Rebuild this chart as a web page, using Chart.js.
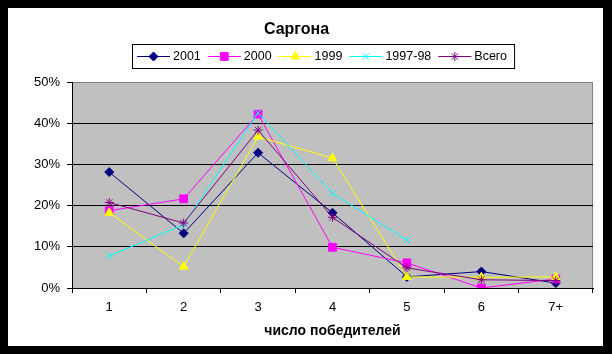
<!DOCTYPE html>
<html><head><meta charset="utf-8">
<script src="https://cdn.jsdelivr.net/npm/chart.js@4"></script>
<style>html,body{margin:0;padding:0;background:#000;overflow:hidden}canvas{display:block}</style>
</head><body><canvas id="c" width="612" height="354"></canvas>
<script>
const categories = ['1', '2', '3', '4', '5', '6', '7+'];
const seriesNames = ['2001', '2000', '1999', '1997-98', 'Всего'];
const s2001 = [28.2, 13.3, 32.9, 18.3, 2.7, 4.0, 1.2];
const s2000 = [18.8, 21.7, 42.3, 9.9, 6.1, 0.0, 2.2];
const s1999 = [18.3, 5.2, 36.8, 31.6, 2.7, 2.6, 2.7];
const s199798 = [7.8, 15.4, 42.6, 23.0, 11.7, null, null];
const sTotal = [20.8, 15.8, 38.4, 17.2, 4.9, 2.0, 1.8];
const yTicks = [0, 10, 20, 30, 40, 50];
const chartTitle = 'Саргона';
const xTitle = 'число победителей';

const FONT = '"Liberation Sans", Arial, sans-serif';

const styles = [
  {color: '#000080', pointStyle: 'rectRot', radius: 4.5},
  {color: '#FF00FF', pointStyle: 'rect', radius: 5.5},
  {color: '#FFFF00', pointStyle: 'triangle', radius: 5},
  {color: '#00FFFF', pointStyle: 'crossRot', radius: 4.5},
  {color: '#800080', pointStyle: 'star', radius: 4.5}
];
const values = [s2001, s2000, s1999, s199798, sTotal];

const datasets = seriesNames.map((name, i) => ({
  label: name,
  data: values[i],
  borderColor: styles[i].color,
  backgroundColor: styles[i].color,
  pointBackgroundColor: styles[i].color,
  pointBorderColor: styles[i].color,
  pointStyle: styles[i].pointStyle,
  pointRadius: styles[i].radius,
  pointHoverRadius: styles[i].radius,
  pointBorderWidth: 1,
  borderWidth: 1,
  tension: 0,
  spanGaps: false,
  fill: false,
  order: seriesNames.length - i
}));

const framePlugin = {
  id: 'frame',
  beforeDraw(chart) {
    const ctx = chart.ctx;
    const a = chart.chartArea;
    ctx.save();
    ctx.fillStyle = '#000';
    ctx.fillRect(0, 0, chart.width, chart.height);
    ctx.fillStyle = '#fff';
    ctx.fillRect(8, 8, 595, 338);
    ctx.fillStyle = '#C0C0C0';
    ctx.fillRect(a.left, a.top, a.right - a.left, a.bottom - a.top);
    ctx.strokeStyle = '#808080';
    ctx.lineWidth = 1;
    ctx.beginPath();
    ctx.moveTo(Math.round(a.right) - 0.5, a.top);
    ctx.lineTo(Math.round(a.right) - 0.5, a.bottom);
    ctx.stroke();
    ctx.restore();
  },
  afterDraw(chart) {
    const ctx = chart.ctx;
    ctx.save();
    ctx.font = '12.5px ' + FONT;
    const boxLeft = 132, boxTop = 44, boxH = 24;
    let x = boxLeft + 5;
    const cy = boxTop + boxH / 2;
    const items = [];
    chart.data.datasets.forEach((ds, i) => {
      const w = ctx.measureText(ds.label).width;
      items.push({ds, i, x, w});
      x += 33 + 3 + w + 7;
    });
    const boxRight = x - 7 + 7;
    ctx.strokeStyle = '#000';
    ctx.lineWidth = 1;
    ctx.strokeRect(boxLeft + 0.5, boxTop + 0.5, boxRight - boxLeft, boxH);
    items.forEach(it => {
      const ds = it.ds;
      ctx.strokeStyle = ds.borderColor;
      ctx.lineWidth = 1;
      ctx.beginPath();
      ctx.moveTo(it.x, Math.round(cy) + 0.5);
      ctx.lineTo(it.x + 33, Math.round(cy) + 0.5);
      ctx.stroke();
      ctx.fillStyle = ds.pointBackgroundColor;
      ctx.strokeStyle = ds.pointBorderColor;
      if (Chart.helpers && Chart.helpers.drawPoint) {
        Chart.helpers.drawPoint(ctx, {pointStyle: ds.pointStyle, radius: ds.pointRadius, borderWidth: 1, rotation: 0}, it.x + 16.5, Math.round(cy) + 0.5);
      }
      ctx.fillStyle = '#000';
      ctx.textBaseline = 'middle';
      ctx.textAlign = 'left';
      ctx.fillText(ds.label, it.x + 36, cy + 1);
    });
    ctx.restore();
  }
};

new Chart(document.getElementById('c'), {
  type: 'line',
  data: {labels: categories, datasets},
  plugins: [framePlugin],
  options: {
    responsive: false,
    animation: false,
    devicePixelRatio: 1,
    layout: {padding: {left: 0, right: 19, top: 0, bottom: 0}},
    plugins: {
      legend: {display: false},
      tooltip: {enabled: false},
      title: {
        display: true,
        text: chartTitle,
        color: '#000',
        font: {family: FONT, size: 16, weight: 'bold', lineHeight: 1.2},
        padding: {top: 19.5, bottom: 43.8}
      }
    },
    scales: {
      x: {
        type: 'category',
        offset: true,
        afterFit(s) { s.height = 66; },
        grid: {offset: true, drawOnChartArea: false, tickLength: 5, color: '#000', tickColor: '#000', lineWidth: 1},
        border: {color: '#000', width: 1},
        ticks: {color: '#000', font: {family: FONT, size: 13}, padding: 7, maxRotation: 0, autoSkip: false},
        title: {display: true, text: xTitle, color: '#000', font: {family: FONT, size: 14, weight: 'bold', lineHeight: 1.2}, padding: {top: 14, bottom: 14}}
      },
      y: {
        min: yTicks[0],
        max: yTicks[yTicks.length - 1],
        afterFit(s) { s.width = 72; },
        afterBuildTicks(s) { s.ticks = yTicks.map(v => ({value: v})); },
        grid: {
          tickLength: 5,
          lineWidth: 1,
          color: c => (c.tick && c.tick.value === yTicks[yTicks.length - 1]) ? '#808080' : '#000',
          tickColor: '#000'
        },
        border: {color: '#000', width: 1},
        ticks: {color: '#000', font: {family: FONT, size: 13}, padding: 7, callback: v => v + '%'}
      }
    }
  }
});
</script>
</body></html>
